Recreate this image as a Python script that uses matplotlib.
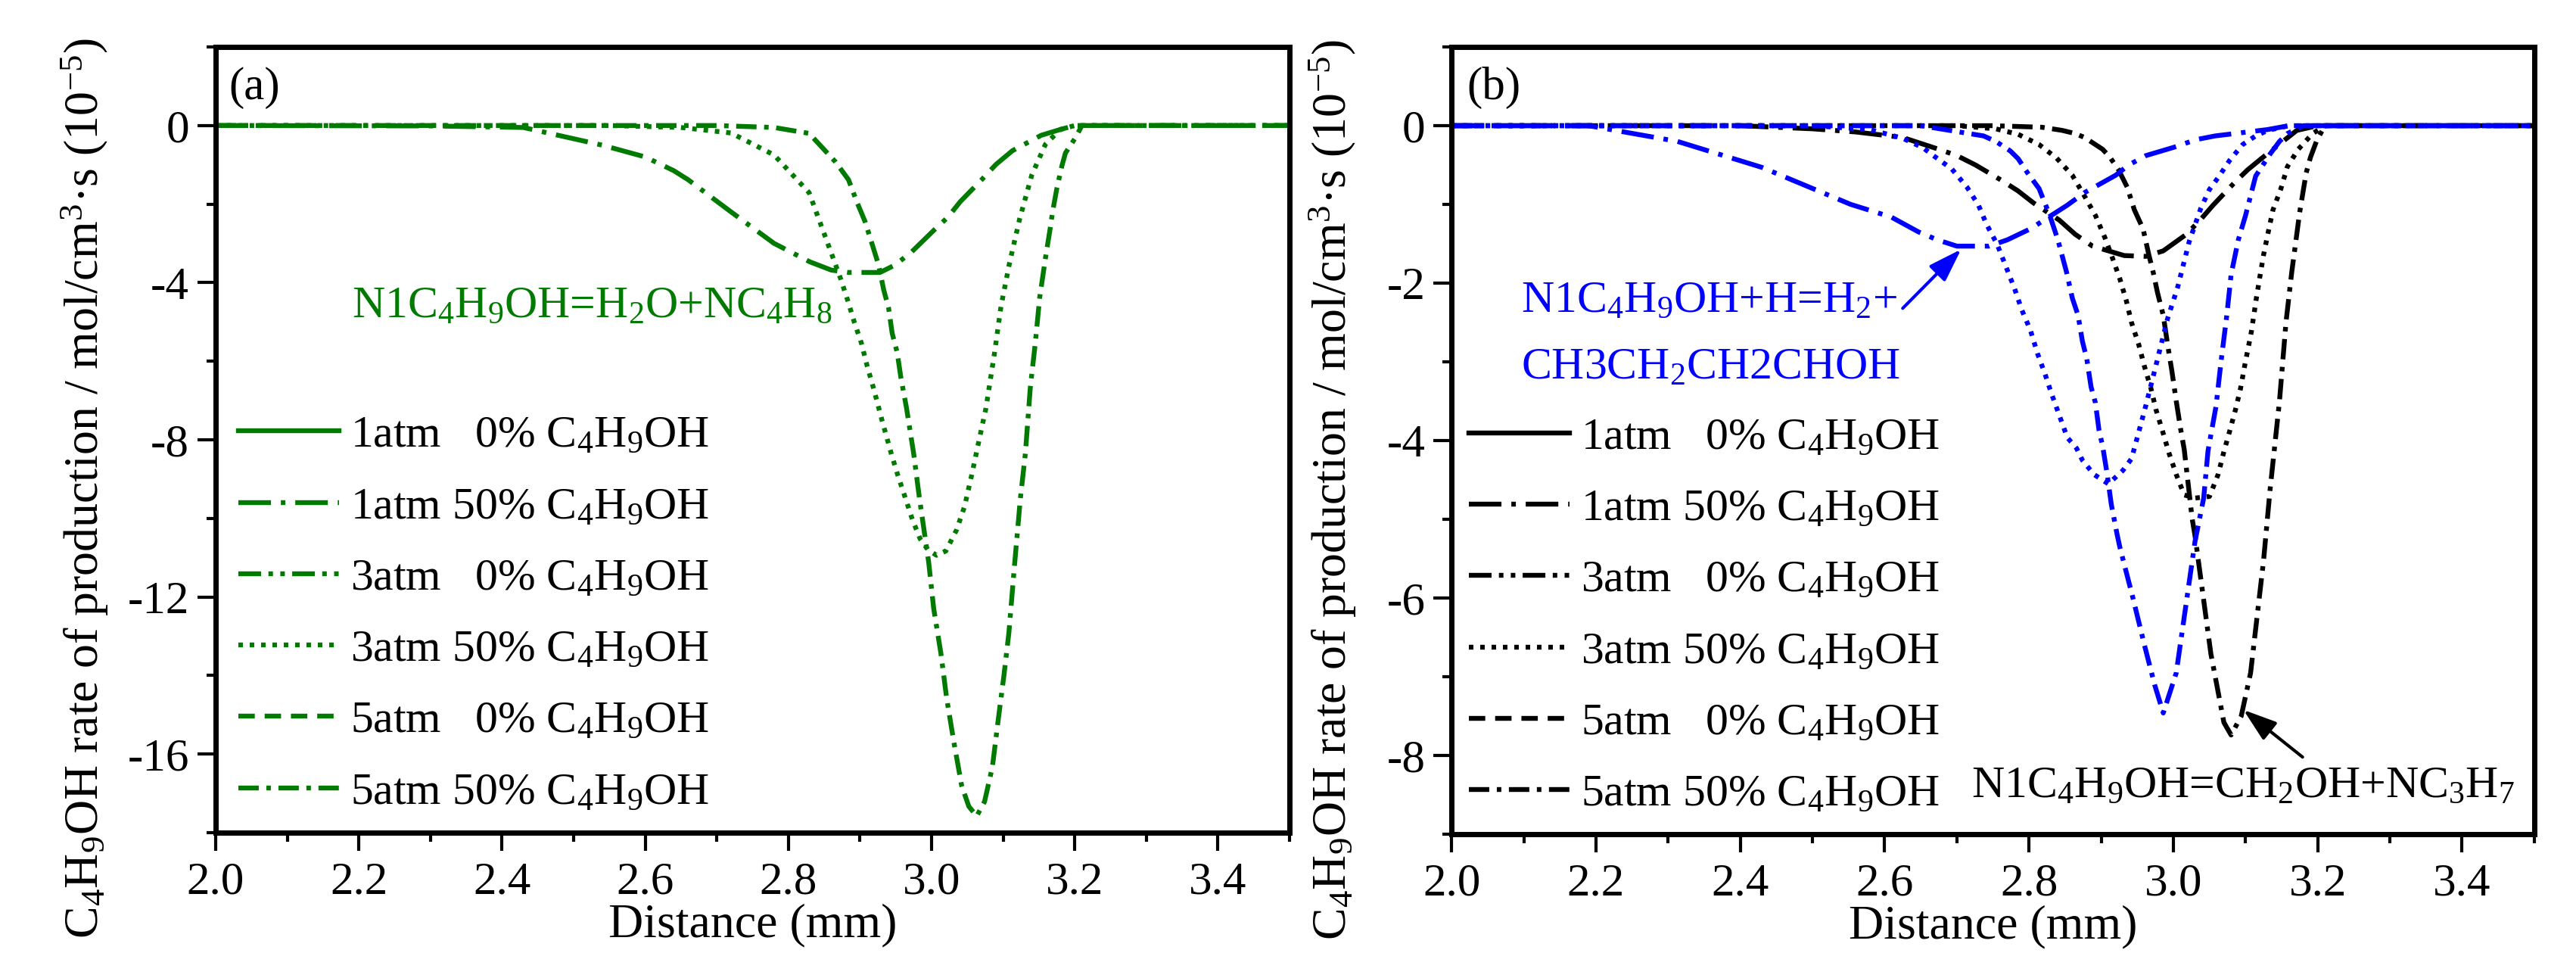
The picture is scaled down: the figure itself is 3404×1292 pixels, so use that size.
import matplotlib
matplotlib.use("Agg")
import matplotlib.pyplot as plt
from matplotlib.ticker import MultipleLocator

plt.rcParams['font.family'] = ['Liberation Serif', 'DejaVu Serif']
plt.rcParams['mathtext.fontset'] = 'custom'
plt.rcParams['mathtext.rm'] = 'Liberation Serif'
plt.rcParams['mathtext.it'] = 'Liberation Serif:italic'
plt.rcParams['mathtext.bf'] = 'Liberation Serif:bold'
plt.rcParams['axes.unicode_minus'] = False
plt.rcParams['lines.scale_dashes'] = False

GREEN = '#007A00'
BLUE = '#0000FF'

# the 0% C4H9OH cases give no C4H9OH consumption: they only appear in the legend
empty_x = []
empty_y = []

# ---- data, panel (a): N1C4H9OH=H2O+NC4H8 ----
a_x_1atm50 = [2.00, 2.30, 2.43, 2.54, 2.60, 2.64, 2.66, 2.72, 2.78, 2.83, 2.86, 2.884, 2.928,
              2.949, 2.972, 3.003, 3.023, 3.04, 3.071, 3.09, 3.113, 3.153, 3.18, 3.20, 3.50]
a_y_1atm50 = [0, -0.01, -0.05, -0.5, -0.8, -1.15, -1.38, -2.2, -3.0, -3.47, -3.68, -3.74, -3.74,
              -3.55, -3.22, -2.67, -2.33, -1.94, -1.36, -0.99, -0.64, -0.25, -0.1, 0, 0]

a_x_3atm50 = [2.0, 2.55, 2.65, 2.72, 2.78, 2.829, 2.862, 2.873, 2.883, 2.892, 2.902, 2.91, 2.919,
              2.931, 2.944, 2.953, 2.963, 2.973, 2.984, 2.995, 3.007, 3.02, 3.035, 3.046, 3.056,
              3.066, 3.076, 3.088, 3.097, 3.109, 3.123, 3.14, 3.159, 3.18, 3.20, 3.5]
a_y_3atm50 = [0, 0, -0.05, -0.19, -0.75, -1.71, -3.35, -3.9, -4.46, -5.0, -5.54, -6.12, -6.69,
              -7.52, -8.37, -8.91, -9.46, -10.02, -10.52, -10.8, -10.94, -10.83, -10.29, -9.7, -8.9,
              -8.04, -7.19, -5.78, -4.6, -3.49, -2.38, -1.26, -0.48, -0.1, 0, 0]

a_x_5atm50 = [2.0, 2.70, 2.78, 2.829, 2.866, 2.884, 2.896, 2.907, 2.917, 2.926, 2.933, 2.94, 2.945,
              2.952, 2.957, 2.965, 2.975, 2.983, 2.996, 3.003, 3.013, 3.021, 3.031, 3.042, 3.052,
              3.063, 3.074, 3.085, 3.093, 3.101, 3.108, 3.116, 3.124, 3.131, 3.138, 3.145, 3.151,
              3.16, 3.165, 3.169, 3.175, 3.182, 3.187, 3.201, 3.21, 3.5]
a_y_5atm50 = [0, 0, -0.05, -0.2, -0.93, -1.38, -1.96, -2.44, -3.02, -3.55, -4.17, -4.65, -5.29,
              -5.78, -6.4, -7.19, -8.35, -9.48, -11.12, -12.3, -13.43, -14.57, -15.68, -16.8, -17.33,
              -17.58, -17.21, -16.32, -15.14, -14.01, -12.91, -11.16, -9.5, -8.35, -6.65, -5.52, -4.38,
              -3.26, -2.7, -2.2, -1.6, -1.03, -0.7, -0.31, 0, 0]

# ---- data, panel (b): blue = N1C4H9OH+H=H2+CH3CH2CH2CHOH, black = N1C4H9OH=CH2OH+NC3H7 ----
b_x_blue_1atm50 = [2.0, 2.19, 2.313, 2.43, 2.553, 2.609, 2.647, 2.673, 2.70, 2.745, 2.77, 2.802,
                   2.853, 2.877, 2.92, 2.938, 2.962, 3.006, 3.03, 3.058, 3.103, 3.13, 3.16, 3.5]
b_y_blue_1atm50 = [0, 0, -0.2, -0.53, -1.0, -1.16, -1.35, -1.45, -1.53, -1.53, -1.45, -1.31,
                   -1.01, -0.85, -0.63, -0.5, -0.38, -0.26, -0.18, -0.13, -0.08, -0.05, 0, 0]

b_x_blue_3atm50 = [2.0, 2.5, 2.58, 2.625, 2.653, 2.669, 2.693, 2.714, 2.73, 2.741, 2.756, 2.768,
                   2.78, 2.79, 2.802, 2.812, 2.822, 2.831, 2.842, 2.853, 2.866, 2.874, 2.89, 2.91,
                   2.93, 2.942, 2.95, 2.962, 2.976, 2.992, 3.006, 3.022, 3.038, 3.05, 3.062, 3.078,
                   3.096, 3.114, 3.131, 3.16, 3.5]
b_y_blue_3atm50 = [0, 0, -0.05, -0.16, -0.28, -0.39, -0.55, -0.78, -1.01, -1.25, -1.51, -1.79,
                   -2.07, -2.34, -2.6, -2.9, -3.15, -3.4, -3.68, -3.96, -4.1, -4.25, -4.43, -4.55,
                   -4.38, -4.23, -3.96, -3.55, -3.04, -2.45, -2.05, -1.47, -1.05, -0.81, -0.66, -0.44,
                   -0.24, -0.13, -0.06, 0, 0]

b_x_blue_5atm50 = [2.0, 2.65, 2.737, 2.754, 2.774, 2.785, 2.798, 2.814, 2.82, 2.828, 2.84, 2.852,
                   2.86, 2.868, 2.874, 2.88, 2.886, 2.892, 2.897, 2.902, 2.908, 2.914, 2.922, 2.926,
                   2.944, 2.96, 2.974, 2.986, 3.004, 3.03, 3.042, 3.048, 3.059, 3.066, 3.074, 3.08,
                   3.09, 3.1, 3.114, 3.134, 3.147, 3.158, 3.18, 3.5]
b_y_blue_5atm50 = [0, 0, -0.13, -0.2, -0.32, -0.42, -0.6, -0.8, -0.94, -1.12, -1.45, -1.86,
                   -2.19, -2.41, -2.74, -2.96, -3.32, -3.52, -3.87, -4.07, -4.41, -4.81, -5.19, -5.36,
                   -6.0, -6.6, -7.1, -7.46, -6.95, -5.28, -4.73, -4.13, -3.57, -3.0, -2.41, -1.89,
                   -1.45, -1.14, -0.64, -0.36, -0.2, -0.1, 0, 0]

b_x_blk_1atm50 = [2.0, 2.40, 2.50, 2.56, 2.625, 2.675, 2.70, 2.726, 2.763, 2.785, 2.806, 2.842,
                  2.864, 2.888, 2.932, 2.962, 2.986, 3.018, 3.037, 3.055, 3.085, 3.103, 3.127,
                  3.171, 3.20, 3.5]
b_y_blk_1atm50 = [0, 0, -0.04, -0.08, -0.15, -0.3, -0.38, -0.5, -0.7, -0.83, -0.98, -1.2,
                  -1.38, -1.53, -1.65, -1.66, -1.59, -1.38, -1.2, -1.01, -0.72, -0.56, -0.38,
                  -0.06, 0, 0]

b_x_blk_3atm50 = [2.0, 2.70, 2.754, 2.785, 2.814, 2.838, 2.86, 2.876, 2.892, 2.905, 2.916, 2.926,
                  2.935, 2.942, 2.952, 2.96, 2.969, 2.976, 2.985, 2.994, 3.004, 3.015, 3.03, 3.05,
                  3.062, 3.07, 3.078, 3.086, 3.093, 3.099, 3.108, 3.115, 3.12, 3.125, 3.131, 3.138,
                  3.149, 3.158, 3.173, 3.193, 3.21, 3.5]
b_y_blk_3atm50 = [0, 0, -0.04, -0.11, -0.24, -0.41, -0.63, -0.88, -1.14, -1.42, -1.69, -1.95,
                  -2.23, -2.5, -2.78, -3.06, -3.34, -3.61, -3.88, -4.16, -4.43, -4.69, -4.73, -4.71,
                  -4.43, -4.14, -3.88, -3.61, -3.34, -3.04, -2.62, -2.19, -1.91, -1.64, -1.37, -1.07,
                  -0.8, -0.52, -0.3, -0.1, 0, 0]

b_x_blk_5atm50 = [2.0, 2.75, 2.818, 2.846, 2.864, 2.877, 2.902, 2.912, 2.924, 2.936, 2.946, 2.958,
                  2.966, 2.972, 2.978, 2.986, 2.992, 2.998, 3.004, 3.01, 3.015, 3.026, 3.03, 3.052,
                  3.07, 3.08, 3.094, 3.107, 3.125, 3.134, 3.147, 3.156, 3.164, 3.175, 3.184, 3.19,
                  3.199, 3.21, 3.5]
b_y_blk_5atm50 = [0, 0, -0.02, -0.06, -0.1, -0.15, -0.3, -0.4, -0.56, -0.78, -1.07, -1.31,
                  -1.64, -1.86, -2.12, -2.41, -2.78, -3.12, -3.5, -3.85, -4.11, -4.99, -5.21, -6.71,
                  -7.58, -7.74, -7.5, -6.95, -5.52, -4.62, -3.5, -2.5, -1.86, -1.1, -0.6, -0.4,
                  -0.18, 0, 0]

labels = ['1atm   0% C$_4$H$_9$OH', '1atm 50% C$_4$H$_9$OH', '3atm   0% C$_4$H$_9$OH',
          '3atm 50% C$_4$H$_9$OH', '5atm   0% C$_4$H$_9$OH', '5atm 50% C$_4$H$_9$OH']

ls = {
    '1atm0': '-',
    '1atm50': (0, (31, 9.4, 4.3, 9.4)),
    '3atm0': (0, (21.6, 7, 4.3, 7, 4.3, 7)),
    '3atm50': (0, (4.3, 6.5)),
    '5atm0': (0, (15.6, 9.4)),
    '5atm50': (0, (19.4, 7.2, 4.3, 7.2)),
}
LW = 4.6

ylab = 'C$_4$H$_9$OH rate of production / mol/cm$^3$·s (10$^{-5}$)'


def style_axes(ax):
    for s in ax.spines.values():
        s.set_linewidth(5)
    ax.tick_params(which='both', direction='out', top=False, right=False, width=3)
    ax.tick_params(which='major', length=17, labelsize=44)
    ax.tick_params(which='minor', length=8.5)
    ax.tick_params(axis='x', pad=10)
    ax.tick_params(axis='y', pad=8)
    ax.set_xlim(2.0, 3.5)
    ax.xaxis.set_major_locator(MultipleLocator(0.2))
    ax.xaxis.set_minor_locator(MultipleLocator(0.1))
    ax.set_xlabel('Distance (mm)', fontsize=46, labelpad=0)


def draw_set(ax, color, curves, with_labels):
    keys = ['1atm0', '1atm50', '3atm0', '3atm50', '5atm0', '5atm50']
    for k, lab in zip(keys, labels):
        x, y = curves[k]
        ax.plot(x, y, color=color, lw=LW, linestyle=ls[k],
                dash_capstyle='butt', label=lab if with_labels else '_nolegend_')


def add_legend(ax, anchor):
    ax.legend(loc='center left', bbox_to_anchor=anchor, frameon=False, fontsize=43,
              handlelength=2.23, handletextpad=0.25, labelspacing=0.66, borderpad=0,
              borderaxespad=0)


fig = plt.figure(figsize=(34.04, 12.92), dpi=100)

# ---------- panel (a) ----------
ax1 = fig.add_axes([0.0837, 0.1486, 0.4169, 0.8034])
curves_a = {'1atm0': (empty_x, empty_y), '1atm50': (a_x_1atm50, a_y_1atm50),
            '3atm0': (empty_x, empty_y), '3atm50': (a_x_3atm50, a_y_3atm50),
            '5atm0': (empty_x, empty_y), '5atm50': (a_x_5atm50, a_y_5atm50)}
draw_set(ax1, GREEN, curves_a, True)
style_axes(ax1)
ax1.set_ylim(-18, 2)
ax1.yaxis.set_major_locator(MultipleLocator(4))
ax1.yaxis.set_minor_locator(MultipleLocator(2))
ax1.set_ylabel(ylab, fontsize=46, va='center')
ax1.yaxis.set_label_coords(-0.122, 0.438)
ax1.text(0.012, 0.975, '(a)', transform=ax1.transAxes, fontsize=44, va='top', ha='left')
ax1.text(2.19, -4.88, 'N1C$_4$H$_9$OH=H$_2$O+NC$_4$H$_8$', color=GREEN, fontsize=43,
         va='baseline', ha='left')
add_legend(ax1, (0.021, 0.278))

# ---------- panel (b) ----------
ax2 = fig.add_axes([0.5635, 0.147, 0.4203, 0.805])
curves_blk = {'1atm0': (empty_x, empty_y), '1atm50': (b_x_blk_1atm50, b_y_blk_1atm50),
              '3atm0': (empty_x, empty_y), '3atm50': (b_x_blk_3atm50, b_y_blk_3atm50),
              '5atm0': (empty_x, empty_y), '5atm50': (b_x_blk_5atm50, b_y_blk_5atm50)}
draw_set(ax2, 'black', curves_blk, True)
curves_blue = {'1atm0': (empty_x, empty_y), '1atm50': (b_x_blue_1atm50, b_y_blue_1atm50),
               '3atm0': (empty_x, empty_y), '3atm50': (b_x_blue_3atm50, b_y_blue_3atm50),
               '5atm0': (empty_x, empty_y), '5atm50': (b_x_blue_5atm50, b_y_blue_5atm50)}
draw_set(ax2, BLUE, curves_blue, False)
style_axes(ax2)
ax2.set_ylim(-9, 1)
ax2.yaxis.set_major_locator(MultipleLocator(2))
ax2.yaxis.set_minor_locator(MultipleLocator(1))
ax2.set_ylabel(ylab, fontsize=46, va='center')
ax2.yaxis.set_label_coords(-0.110, 0.4375)
ax2.text(0.014, 0.975, '(b)', transform=ax2.transAxes, fontsize=44, va='top', ha='left')

ax2.text(2.096, -2.36, 'N1C$_4$H$_9$OH+H=H$_2$+', color=BLUE, fontsize=43,
         va='baseline', ha='left')
ax2.text(2.096, -3.22, 'CH3CH$_2$CH2CHOH', color=BLUE, fontsize=43,
         va='baseline', ha='left')
ax2.annotate('', xy=(2.706, -1.57), xytext=(2.625, -2.32),
             arrowprops=dict(arrowstyle='-|>,head_length=0.6,head_width=0.2',
                             color=BLUE, lw=3, mutation_scale=45, shrinkA=0, shrinkB=0))
ax2.text(2.72, -8.53, 'N1C$_4$H$_9$OH=CH$_2$OH+NC$_3$H$_7$', color='black', fontsize=43,
         va='baseline', ha='left')
ax2.annotate('', xy=(3.097, -7.42), xytext=(3.179, -8.02),
             arrowprops=dict(arrowstyle='-|>,head_length=0.6,head_width=0.2',
                             color='black', lw=3, mutation_scale=45, shrinkA=0, shrinkB=0))
add_legend(ax2, (0.016, 0.277))

fig.savefig('out.png', dpi=100)
